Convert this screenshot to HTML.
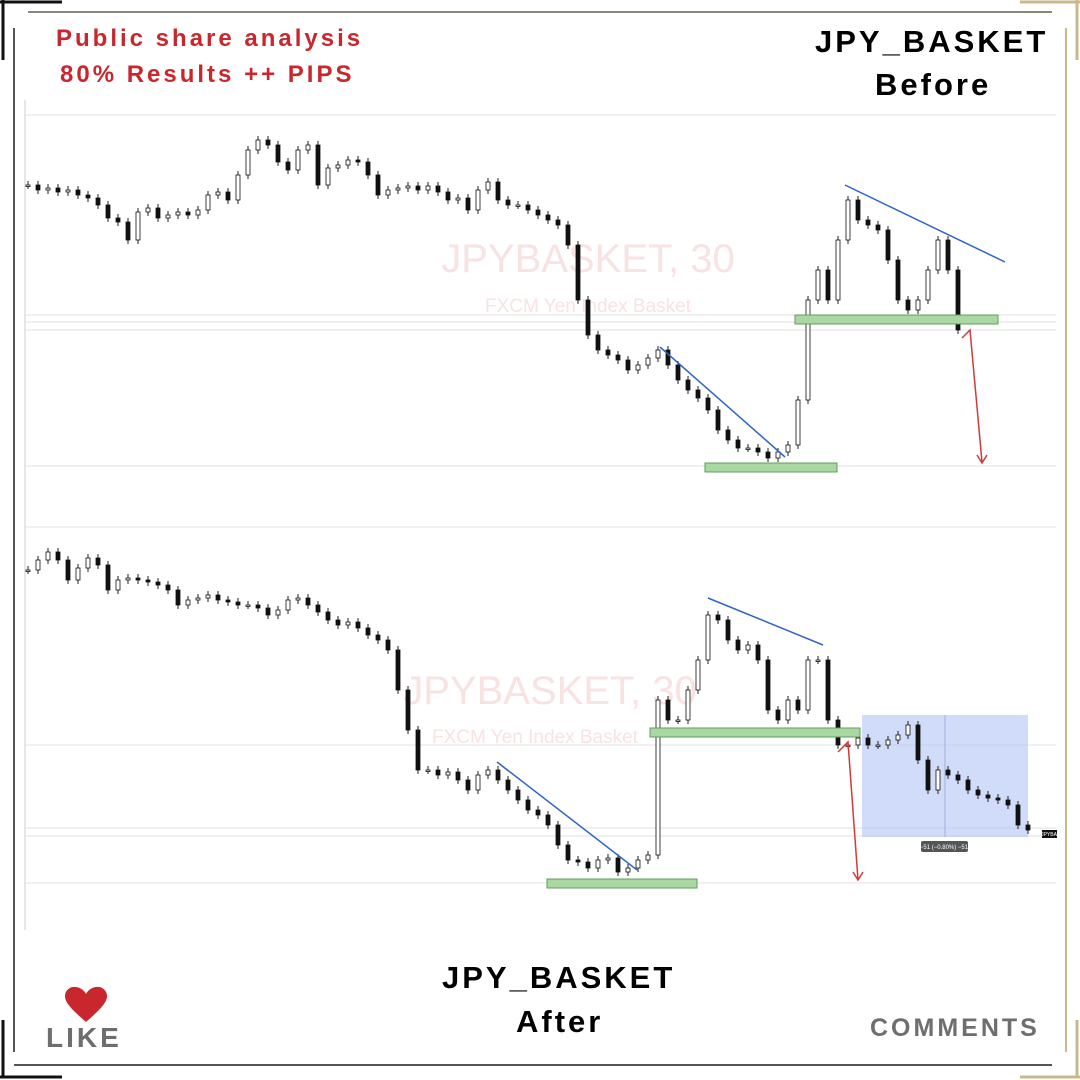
<!DOCTYPE html>
<html><head><meta charset="utf-8"><style>
html,body{margin:0;padding:0;background:#fff;}
body{width:1080px;height:1080px;position:relative;overflow:hidden;font-family:"Liberation Sans",sans-serif;}
.t{position:absolute;font-weight:bold;white-space:nowrap;}
</style></head><body>
<svg width="1080" height="1080" style="position:absolute;left:0;top:0">
  <g stroke-width="2" fill="none">
    <line x1="28" y1="12" x2="1052" y2="12" stroke="#8a8a78"/>
    <line x1="14" y1="28" x2="14" y2="1052" stroke="#555"/>
    <line x1="1066" y1="28" x2="1066" y2="1052" stroke="#c8b98a"/>
    <line x1="14" y1="1065" x2="1052" y2="1065" stroke="#555"/>
    <line x1="3" y1="0" x2="3" y2="60" stroke="#111" stroke-width="3"/>
    <line x1="0" y1="2" x2="62" y2="2" stroke="#111" stroke-width="3"/>
    <line x1="1077" y1="0" x2="1077" y2="60" stroke="#c8b98a" stroke-width="3"/>
    <line x1="1020" y1="2" x2="1080" y2="2" stroke="#c8b98a" stroke-width="3"/>
    <line x1="3" y1="1020" x2="3" y2="1078" stroke="#111" stroke-width="3"/>
    <line x1="0" y1="1077" x2="62" y2="1077" stroke="#111" stroke-width="3"/>
    <line x1="1077" y1="1020" x2="1077" y2="1078" stroke="#c8b98a" stroke-width="3"/>
    <line x1="1020" y1="1077" x2="1080" y2="1077" stroke="#c8b98a" stroke-width="3"/>
    <line x1="25" y1="100" x2="25" y2="930" stroke="#ccc" stroke-width="1"/>
  </g>
  <g stroke="#e2e2e2" stroke-width="1">
    <line x1="25" y1="115" x2="1056" y2="115"/>
    <line x1="25" y1="315" x2="1056" y2="315"/>
    <line x1="25" y1="322" x2="1056" y2="322"/>
    <line x1="25" y1="330" x2="1056" y2="330"/>
    <line x1="25" y1="466" x2="1056" y2="466"/>
    <line x1="25" y1="527" x2="1056" y2="527"/>
    <line x1="25" y1="745" x2="1056" y2="745"/>
    <line x1="25" y1="828" x2="1056" y2="828"/>
    <line x1="25" y1="836" x2="1056" y2="836"/>
    <line x1="25" y1="883" x2="1056" y2="883"/>
  </g>
  <text x="588" y="272" font-size="40" fill="#f8e2e2" text-anchor="middle" font-family="Liberation Sans, sans-serif">JPYBASKET, 30</text>
  <text x="588" y="312" font-size="19" fill="#f8e2e2" text-anchor="middle" font-family="Liberation Sans, sans-serif">FXCM Yen Index Basket</text>
  <text x="550" y="704" font-size="40" fill="#f8e2e2" text-anchor="middle" font-family="Liberation Sans, sans-serif">JPYBASKET, 30</text>
  <text x="535" y="743" font-size="19" fill="#f8e2e2" text-anchor="middle" font-family="Liberation Sans, sans-serif">FXCM Yen Index Basket</text>
  <rect x="862" y="715" width="166" height="122" fill="rgba(170,192,245,0.55)"/>
  <line x1="945" y1="715" x2="945" y2="837" stroke="#9fb0d8" stroke-width="1"/>
  <g id="candles-top"></g>
  <g id="candles-bottom"></g>
  <rect x="795" y="315" width="203" height="9" fill="#a9d8a2" stroke="#5c9e58" stroke-width="1"/>
  <rect x="705" y="463" width="132" height="9" fill="#a9d8a2" stroke="#5c9e58" stroke-width="1"/>
  <rect x="650" y="728" width="210" height="9" fill="#a9d8a2" stroke="#5c9e58" stroke-width="1"/>
  <rect x="547" y="879" width="150" height="9" fill="#a9d8a2" stroke="#5c9e58" stroke-width="1"/>
  <g stroke="#2f63c8" stroke-width="1.5">
    <line x1="845" y1="185" x2="1005" y2="262"/>
    <line x1="660" y1="347" x2="785" y2="457"/>
    <line x1="708" y1="598" x2="823" y2="645"/>
    <line x1="497" y1="762" x2="637" y2="870"/>
  </g>
  <g stroke="#d03a3a" stroke-width="1.5" fill="none">
    <polyline points="962,338 970,330 982,462"/>
    <polyline points="977,455 982,463 987,455"/>
    <polyline points="838,752 848,742 858,880"/>
    <polyline points="853,872 858,880 863,872"/>
  </g>
  <rect x="921" y="841" width="47" height="11" rx="2" fill="#555"/>
  <text x="944" y="849" font-size="6" fill="#fff" text-anchor="middle" font-family="Liberation Sans, sans-serif">−51 (−0.80%) −51</text>
  <rect x="1042" y="830" width="15" height="8" fill="#111"/>
  <text x="1049" y="836" font-size="5" fill="#fff" text-anchor="middle" font-family="Liberation Sans, sans-serif">JPYBA</text>
  <path d="M86 1022 C70 1008 62 1000 66 992 C70 984 82 986 86 994 C90 986 102 984 106 992 C110 1000 102 1008 86 1022 Z" fill="#c8282d"/>
</svg>
<div class="t" style="left:56px;top:25px;font-size:24px;letter-spacing:3px;color:#c8282d;">Public share analysis</div>
<div class="t" style="left:60px;top:61px;font-size:24px;letter-spacing:3px;color:#c8282d;">80% Results ++ PIPS</div>
<div class="t" style="left:815px;top:24px;font-size:31px;letter-spacing:3px;color:#000;">JPY_BASKET</div>
<div class="t" style="left:875px;top:67px;font-size:31px;letter-spacing:3px;color:#000;">Before</div>
<div class="t" style="left:442px;top:960px;font-size:31px;letter-spacing:3px;color:#000;">JPY_BASKET</div>
<div class="t" style="left:516px;top:1004px;font-size:31px;letter-spacing:3px;color:#000;">After</div>
<div class="t" style="left:46px;top:1022px;font-size:28px;letter-spacing:3px;color:#6e6e6e;">LIKE</div>
<div class="t" style="left:870px;top:1014px;font-size:25px;letter-spacing:3px;color:#6e6e6e;">COMMENTS</div>
<script>
// Price = 480 - pixel row (top chart) / 1000 - pixel row (bottom chart)
const topCloses = [295,290,292,288,290,285,282,275,262,258,240,268,272,262,265,268,265,270,285,288,280,305,330,340,335,318,310,330,335,295,312,315,320,318,305,285,290,292,294,290,294,288,280,282,270,290,298,280,275,275,270,265,260,255,235,180,145,130,125,120,110,115,122,130,115,100,90,82,70,50,40,32,32,28,22,28,35,80,180,210,180,240,280,260,255,250,220,180,170,180,210,240,210,150];
const bottomCloses = [430,440,448,440,420,432,442,435,410,420,422,420,418,415,410,395,400,402,405,400,398,395,395,392,385,390,400,402,395,388,380,375,378,372,365,360,350,310,270,230,230,225,228,220,210,225,230,220,210,200,190,185,175,155,140,138,132,140,142,128,132,140,145,300,280,280,310,340,385,380,360,350,355,340,290,280,300,290,340,340,280,255,255,262,255,255,260,265,275,240,210,230,225,220,210,205,202,200,195,175,170];
function drawCandles(gid, closes, x0, x1, base) {
  const g = document.getElementById(gid);
  const ns = 'http://www.w3.org/2000/svg';
  const step = (x1 - x0) / (closes.length - 1);
  const yOf = p => base - p;
  for (let i = 0; i < closes.length; i++) {
    const c = closes[i];
    const o = i > 0 ? closes[i - 1] : c;
    const hi = Math.max(o, c) + 4, lo = Math.min(o, c) - 4;
    const x = x0 + i * step;
    const w = document.createElementNS(ns, 'line');
    w.setAttribute('x1', x); w.setAttribute('x2', x);
    w.setAttribute('y1', yOf(hi)); w.setAttribute('y2', yOf(lo));
    w.setAttribute('stroke', '#222'); w.setAttribute('stroke-width', '1');
    
    
    g.appendChild(w);
    const r = document.createElementNS(ns, 'rect');
    const top = yOf(Math.max(o, c));
    r.setAttribute('x', x - 2); r.setAttribute('width', 4);
    r.setAttribute('y', top); r.setAttribute('height', Math.max(1.5, Math.abs(o - c)));
    r.setAttribute('fill', c >= o ? '#fff' : '#111');
    r.setAttribute('stroke', '#111'); r.setAttribute('stroke-width', '0.8');
    
    
    g.appendChild(r);
  }
}
drawCandles('candles-top', topCloses, 28, 958, 480);
drawCandles('candles-bottom', bottomCloses, 28, 1028, 1000);
</script>
</body></html>
